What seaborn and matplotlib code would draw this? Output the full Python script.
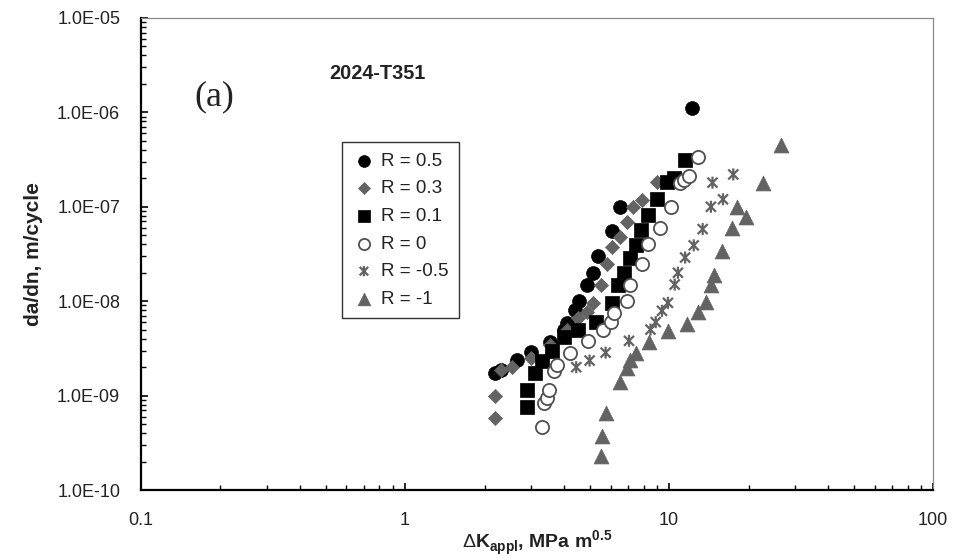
import numpy as np
import pandas as pd
import matplotlib
matplotlib.use("Agg")
import matplotlib.pyplot as plt
from matplotlib.path import Path
from matplotlib.ticker import LogLocator, FixedLocator, FuncFormatter, NullFormatter
import seaborn as sns

# data (dK in MPa m^0.5, da/dN in m/cycle)
labels = ['R = 0.5', 'R = 0.3', 'R = 0.1', 'R = 0', 'R = -0.5', 'R = -1']

dk_r05 = [2.2, 2.3, 2.65, 3.0, 3.55, 4.0, 4.1, 4.4, 4.55, 4.9, 5.15, 5.4, 6.1, 6.5, 12.2]
dadn_r05 = [1.75e-9, 1.85e-9, 2.4e-9, 2.9e-9, 3.7e-9, 5e-9, 5.9e-9, 8e-9, 1.0e-8, 1.5e-8,
            2.0e-8, 3.0e-8, 5.5e-8, 1.0e-7, 1.1e-6]

dk_r03 = [2.2, 2.2, 2.3, 2.55, 3.0, 3.55, 4.1, 4.5, 4.9, 5.15, 5.5, 5.8, 6.1, 6.5, 6.9, 7.3, 7.9, 9.0]
dadn_r03 = [5.8e-10, 1.0e-9, 1.85e-9, 2.0e-9, 2.5e-9, 3.4e-9, 5e-9, 6.6e-9, 7.7e-9, 9.6e-9,
            1.5e-8, 2.5e-8, 3.75e-8, 4.8e-8, 6.9e-8, 1.0e-7, 1.18e-7, 1.85e-7]

dk_r01 = [2.9, 2.9, 3.1, 3.3, 3.6, 4.0, 4.5, 5.3, 6.1, 6.4, 6.75, 7.1, 7.5, 7.8, 8.3, 9.0, 9.8, 10.4, 11.5]
dadn_r01 = [7.5e-10, 1.15e-9, 1.75e-9, 2.3e-9, 3.0e-9, 4.2e-9, 5e-9, 6e-9, 9.6e-9, 1.5e-8,
            2.0e-8, 2.9e-8, 3.9e-8, 5.7e-8, 8.2e-8, 1.2e-7, 1.85e-7, 2.0e-7, 3.1e-7]

dk_r0 = [3.3, 3.35, 3.45, 3.5, 3.65, 3.75, 4.2, 4.95, 5.6, 6.0, 6.2, 6.9, 7.1, 7.9, 8.3, 9.2,
         10.2, 11.0, 11.4, 11.9, 12.9]
dadn_r0 = [4.7e-10, 8.4e-10, 9.5e-10, 1.15e-9, 1.8e-9, 2.1e-9, 2.8e-9, 3.8e-9, 5e-9, 6e-9,
           7.5e-9, 1.0e-8, 1.5e-8, 2.45e-8, 4.0e-8, 5.9e-8, 1.0e-7, 1.8e-7, 1.9e-7, 2.1e-7, 3.4e-7]

dk_rm05 = [4.45, 5.0, 5.75, 7.05, 8.5, 8.9, 9.4, 9.9, 10.5, 10.8, 11.5, 12.4, 13.4, 14.4, 16.0, 14.6, 17.5]
dadn_rm05 = [2.0e-9, 2.35e-9, 2.85e-9, 3.8e-9, 5e-9, 6.0e-9, 7.9e-9, 9.6e-9, 1.5e-8, 2.0e-8,
             2.9e-8, 3.9e-8, 5.8e-8, 1.0e-7, 1.2e-7, 1.8e-7, 2.2e-7]

dk_rm1 = [5.5, 5.55, 5.75, 6.5, 6.9, 7.1, 7.5, 8.4, 9.9, 11.7, 12.9, 13.8, 14.4, 14.8, 15.9,
          17.3, 19.6, 18.1, 22.7, 26.5]
dadn_rm1 = [2.3e-10, 3.7e-10, 6.5e-10, 1.4e-9, 1.95e-9, 2.4e-9, 2.85e-9, 3.7e-9, 4.8e-9, 5.7e-9,
            7.7e-9, 9.8e-9, 1.5e-8, 1.9e-8, 3.4e-8, 6.0e-8, 7.8e-8, 1.0e-7, 1.8e-7, 4.5e-7]

xs = [dk_r05, dk_r03, dk_r01, dk_r0, dk_rm05, dk_rm1]
ys = [dadn_r05, dadn_r03, dadn_r01, dadn_r0, dadn_rm05, dadn_rm1]
df = pd.concat([pd.DataFrame({'dK': x, 'dadn': y, 'R': lab}) for x, y, lab in zip(xs, ys, labels)],
               ignore_index=True)

# excel style star marker: X plus a vertical bar
star = Path([(-1, -1), (1, 1), (-1, 1), (1, -1), (0, -1.2), (0, 1.2)],
            [Path.MOVETO, Path.LINETO, Path.MOVETO, Path.LINETO, Path.MOVETO, Path.LINETO])

gray = '#636363'
styles = {
    'R = 0.5': dict(marker='o', s=100, color='black', edgecolor='black', linewidth=0.5),
    'R = 0.3': dict(marker='D', s=52, color=gray, edgecolor=gray, linewidth=0.5),
    'R = 0.1': dict(marker='s', s=105, color='black', edgecolor='black', linewidth=0.5),
    'R = 0': dict(marker='o', s=90, facecolor='white', edgecolor='#505050', linewidth=1.3),
    'R = -0.5': dict(marker=star, s=75, facecolor='none', edgecolor=gray, linewidth=1.6),
    'R = -1': dict(marker='^', s=115, color=gray, edgecolor=gray, linewidth=0.5),
}

sns.set_style('white')
plt.rcParams['font.family'] = ['Liberation Sans', 'DejaVu Sans']
plt.rcParams['mathtext.fontset'] = 'custom'
plt.rcParams['mathtext.rm'] = 'Liberation Sans'
plt.rcParams['mathtext.bf'] = 'Liberation Sans:bold'

fig = plt.figure(figsize=(9.69, 5.6), dpi=100)
ax = fig.add_axes([0.1455, 0.125, 0.8175, 0.843])

for lab in labels:
    sub = df[df['R'] == lab]
    sns.scatterplot(data=sub, x='dK', y='dadn', ax=ax, label=lab, **styles[lab])

ax.set_xscale('log')
ax.set_yscale('log')
ax.set_xlim(0.1, 100)
ax.set_ylim(1e-10, 1e-5)

ax.xaxis.set_major_locator(FixedLocator([0.1, 1, 10, 100]))
ax.xaxis.set_major_formatter(FuncFormatter(lambda v, p: f'{v:g}'))
ax.yaxis.set_major_locator(FixedLocator([1e-10, 1e-9, 1e-8, 1e-7, 1e-6, 1e-5]))
ax.yaxis.set_major_formatter(FuncFormatter(lambda v, p: f'{v:.1E}'))
ax.xaxis.set_minor_locator(LogLocator(base=10, subs=np.arange(2, 10)))
ax.yaxis.set_minor_locator(LogLocator(base=10, subs=np.arange(2, 10)))
ax.xaxis.set_minor_formatter(NullFormatter())
ax.yaxis.set_minor_formatter(NullFormatter())
ax.tick_params(which='major', direction='in', length=5, width=1.2, labelsize=13,
               colors='black', labelcolor='#222222')
ax.tick_params(axis='y', which='major', pad=15)
ax.tick_params(axis='x', which='major', pad=16)
ax.tick_params(which='minor', direction='in', length=3.5, width=1.0, colors='black')
ax.tick_params(axis='y', which='both', left=True)
ax.tick_params(axis='x', which='both', bottom=True)

for side in ['left', 'bottom']:
    ax.spines[side].set_color('black')
    ax.spines[side].set_linewidth(1.6)
for side in ['top', 'right']:
    ax.spines[side].set_color('#8a8a8a')
    ax.spines[side].set_linewidth(0.9)

ax.set_xlabel(r'$\Delta$K$_{\mathbf{appl}}$, MPa m$^{\mathbf{0.5}}$', fontsize=14,
              fontweight='bold', labelpad=0, color='#222222')
ax.set_ylabel('da/dn, m/cycle', fontsize=15, fontweight='bold', labelpad=10, color='#222222')

ax.text(0.093, 0.833, '(a)', transform=ax.transAxes, fontsize=26, family='Liberation Serif',
        ha='center', va='center', color='#222222')
ax.text(0.298, 0.883, '2024-T351', transform=ax.transAxes, fontsize=14.3, fontweight='bold',
        ha='center', va='center', color='#222222')

leg = ax.legend(loc='upper left', bbox_to_anchor=(0.254, 0.737), borderaxespad=0,
                frameon=True, fancybox=False, edgecolor='black', fontsize=13.6,
                handletextpad=0.3, labelspacing=0.55, borderpad=0.55, handlelength=1.2,
                markerscale=0.85)
leg.get_frame().set_linewidth(1.0)
for t in leg.get_texts():
    t.set_color('#222222')

fig.savefig('out.png', dpi=100, facecolor='white')
